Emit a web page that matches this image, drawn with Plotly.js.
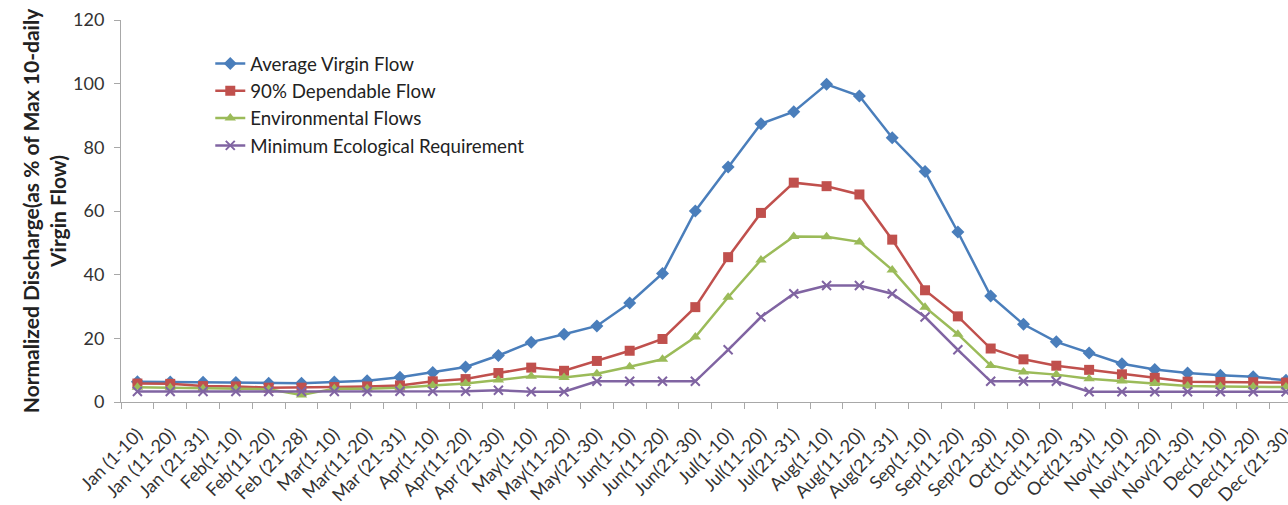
<!DOCTYPE html>
<html>
<head>
<meta charset="utf-8">
<script src="https://cdn.plot.ly/plotly-3.0.1.min.js"></script>
<style>
  html, body { margin: 0; padding: 0; background: #fff; }
  #chart { width: 1288px; height: 505px; }
</style>
</head>
<body>
<div id="chart"></div>
<script>
const categories = [
  "Jan (1-10)", "Jan (11-20)", "Jan (21-31)", "Feb(1-10)", "Feb(11-20)", "Feb (21-28)",
  "Mar(1-10)", "Mar(11-20)", "Mar (21-31)", "Apr(1-10)", "Apr(11-20)", "Apr (21-30)",
  "May(1-10)", "May(11-20)", "May(21-30)", "Jun(1-10)", "Jun(11-20)", "Jun(21-30)",
  "Jul(1-10)", "Jul(11-20)", "Jul(21-31)", "Aug(1-10)", "Aug(11-20)", "Aug(21-31)",
  "Sep(1-10)", "Sep(11-20)", "Sep(21-30)", "Oct(1-10)", "Oct(11-20)", "Oct(21-31)",
  "Nov(1-10)", "Nov(11-20)", "Nov(21-30)", "Dec(1-10)", "Dec(11-20)", "Dec (21-30)"
];

const averageVirginFlow = [
  6.4, 6.3, 6.2, 6.1, 5.9, 5.9, 6.3, 6.7, 7.8, 9.3, 11.0, 14.6,
  18.8, 21.3, 23.9, 31.1, 40.4, 60.0, 73.8, 87.4, 91.2, 99.8, 96.1, 83.0,
  72.4, 53.4, 33.3, 24.4, 18.9, 15.4, 12.0, 10.2, 9.1, 8.4, 7.9, 6.8
];

const dependableFlow90 = [
  5.8, 5.7, 5.0, 4.9, 4.5, 4.5, 4.7, 4.9, 5.2, 6.5, 7.2, 9.1,
  10.8, 9.8, 12.9, 16.1, 19.8, 29.8, 45.5, 59.4, 68.9, 67.8, 65.2, 51.0,
  35.1, 26.9, 16.8, 13.4, 11.4, 10.1, 8.7, 7.6, 6.4, 6.3, 6.2, 6.1
];

const environmentalFlows = [
  4.6, 4.5, 4.2, 4.2, 4.0, 2.2, 4.2, 4.2, 4.5, 5.2, 5.8, 6.9,
  8.1, 7.7, 8.9, 11.1, 13.4, 20.4, 32.9, 44.6, 52.0, 51.9, 50.3, 41.5,
  29.8, 21.3, 11.5, 9.4, 8.6, 7.3, 6.6, 5.8, 5.0, 4.9, 4.8, 4.7
];

const minEcologicalRequirement = [
  3.3, 3.3, 3.3, 3.3, 3.3, 3.3, 3.3, 3.3, 3.4, 3.4, 3.4, 3.7,
  3.2, 3.2, 6.5, 6.5, 6.5, 6.5, 16.4, 26.7, 34.0, 36.6, 36.6, 34.0,
  26.7, 16.4, 6.5, 6.5, 6.5, 3.2, 3.2, 3.2, 3.2, 3.2, 3.2, 3.2
];

const seriesNames = [
  "Average Virgin Flow", "90% Dependable Flow", "Environmental Flows", "Minimum Ecological Requirement"
];

const FONT = "Lato, 'Open Sans', sans-serif";

function mk(name, y, color, symbol, size) {
  return {
    type: "scatter", mode: "lines+markers", name: name,
    x: categories, y: y,
    line: { color: color, width: 2.5 },
    marker: { color: color, symbol: symbol, size: size,
      line: { color: color, width: symbol === "x-thin" ? 2 : 0 } }
  };
}

const data = [
  mk(seriesNames[0], averageVirginFlow, "#4A7EBB", "diamond", 10),
  mk(seriesNames[1], dependableFlow90, "#C0504D", "square", 10),
  mk(seriesNames[2], environmentalFlows, "#9BBB59", "triangle-up", 10),
  mk(seriesNames[3], minEcologicalRequirement, "#8064A2", "x-thin", 9)
];

const layout = {
  width: 1288, height: 505,
  margin: { l: 121, r: 0, t: 20, b: 103 },
  paper_bgcolor: "#fff", plot_bgcolor: "#fff",
  font: { family: FONT, color: "#404040" },
  showlegend: true,
  legend: {
    x: 0.0765, y: 0.935, xanchor: "left", yanchor: "top",
    bgcolor: "rgba(0,0,0,0)",
    font: { family: FONT, size: 18.7, color: "#222" },
    tracegroupgap: 0, itemwidth: 30
  },
  xaxis: {
    type: "category",
    range: [-0.5, 35.06],
    showgrid: false, zeroline: false,
    showline: true, linecolor: "#a8a8a8", linewidth: 1,
    ticks: "outside", ticklen: 6, tickcolor: "#a8a8a8",
    tickson: "boundaries",
    tickangle: -45,
    ticklabelstandoff: 14,
    tickfont: { family: FONT, size: 18, color: "#333" },
    automargin: false
  },
  yaxis: {
    range: [0, 120],
    dtick: 20,
    showgrid: false, zeroline: false,
    showline: true, linecolor: "#a8a8a8", linewidth: 1,
    ticks: "outside", ticklen: 6, tickcolor: "#a8a8a8",
    ticklabelstandoff: 6,
    tickfont: { family: FONT, size: 18, color: "#333" },
    title: {
      text: "<b>Normalized Discharge(as % of Max 10-daily<br>Virgin Flow)</b>",
      font: { family: FONT, size: 21, color: "#222" },
      standoff: 0
    },
    automargin: true
  }
};

Plotly.newPlot("chart", data, layout, { staticPlot: true, displayModeBar: false });
</script>
</body>
</html>
